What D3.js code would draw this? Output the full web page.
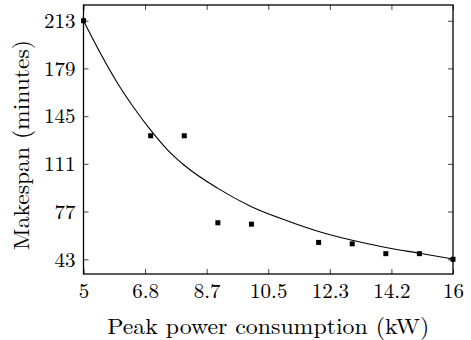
<!DOCTYPE html>
<html>
<head>
<meta charset="utf-8">
<script src="https://cdn.jsdelivr.net/npm/d3@7"></script>
<style>
  body { margin: 0; background: #fff; }
  text { fill: #000; }
</style>
</head>
<body>
<div id="chart"></div>
<script>
// measured points
var powerValues = [5, 7, 8, 9, 10, 12, 13, 14, 15, 16];
var makespanValues = [213, 131, 131, 69, 68, 55, 54, 47, 47, 43];

// fitted curve
var curvePower = [5, 5.5, 6, 6.5, 7, 7.5, 8, 9, 10, 11, 12, 13, 14, 15, 16];
var curveMakespan = [213, 190, 169, 151, 135, 121, 110, 93.5, 80.5, 71, 62.8, 56.5, 51.4, 47.3, 43.2];

var xTicks = [5, 6.8333, 8.6667, 10.5, 12.3333, 14.1667, 16];
var xTickLabels = ["5", "6.8", "8.7", "10.5", "12.3", "14.2", "16"];
var yTicks = [43, 77, 111, 145, 179, 213];

var xLabel = "Peak power consumption (kW)";
var yLabel = "Makespan (minutes)";

var width = 471;
var height = 340;
var pLeft = 83.5, pRight = 453, pTop = 5, pBottom = 274;
var fontName = "'Latin Modern Roman', 'CMU Serif', 'Liberation Serif', 'Times New Roman', 'Nimbus Roman', FreeSerif, 'Noto Serif', 'DejaVu Serif', serif";

var svg = d3.select("#chart")
	.append("svg")
	.attr("width", width)
	.attr("height", height)
	.style("font-family", fontName);

var x = d3.scaleLinear().domain([5, 16]).range([pLeft, pRight]);
var y = d3.scaleLinear().domain([32.5, 224.2]).range([pBottom, pTop]);

var tickLen = 5;

function styleTicks(g){
	g.attr("font-family", null);
	g.select(".domain").remove();
	g.selectAll("line").attr("stroke", "#444").attr("stroke-width", 1);
}

// ticks on all four sides, pointing inward
svg.append("g")
	.attr("transform", "translate(0," + pBottom + ")")
	.call(d3.axisBottom(x).tickValues(xTicks).tickSizeInner(-tickLen).tickSizeOuter(0).tickFormat(function(d, i){ return xTickLabels[i]; }))
	.call(styleTicks)
	.call(function(g){
		g.selectAll("text")
			.attr("y", 24)
			.attr("dy", 0)
			.attr("fill", "#000")
			.style("font-family", fontName)
			.style("font-size", "21px");
	});

svg.append("g")
	.attr("transform", "translate(0," + pTop + ")")
	.call(d3.axisTop(x).tickValues(xTicks).tickSizeInner(-tickLen).tickSizeOuter(0).tickFormat(""))
	.call(styleTicks);

svg.append("g")
	.attr("transform", "translate(" + pLeft + ",0)")
	.call(d3.axisLeft(y).tickValues(yTicks).tickSizeInner(-tickLen).tickSizeOuter(0))
	.call(styleTicks)
	.call(function(g){
		g.selectAll("text")
			.attr("x", -8)
			.attr("fill", "#000")
			.style("font-family", fontName)
			.style("font-size", "21px");
	});

svg.append("g")
	.attr("transform", "translate(" + pRight + ",0)")
	.call(d3.axisRight(y).tickValues(yTicks).tickSizeInner(-tickLen).tickSizeOuter(0).tickFormat(""))
	.call(styleTicks);

// frame
svg.append("rect")
	.attr("x", pLeft)
	.attr("y", pTop)
	.attr("width", pRight - pLeft)
	.attr("height", pBottom - pTop)
	.attr("fill", "none")
	.attr("stroke", "#000")
	.attr("stroke-width", 1.3);

// curve
var curveData = curvePower.map(function(p, i){ return [p, curveMakespan[i]]; });
var line = d3.line()
	.x(function(d){ return x(d[0]); })
	.y(function(d){ return y(d[1]); })
	.curve(d3.curveMonotoneX);

svg.append("path")
	.datum(curveData)
	.attr("d", line)
	.attr("fill", "none")
	.attr("stroke", "#000")
	.attr("stroke-width", 1.1);

// points
var m = 5;
svg.selectAll(".pt")
	.data(powerValues)
	.enter()
	.append("rect")
	.attr("class", "pt")
	.attr("x", function(d){ return x(d) - m/2; })
	.attr("y", function(d, i){ return y(makespanValues[i]) - m/2; })
	.attr("width", m)
	.attr("height", m)
	.attr("fill", "#000");

// axis titles
svg.append("text")
	.attr("text-anchor", "middle")
	.style("font-family", fontName)
	.style("font-size", "22px")
	.attr("x", (pLeft + pRight) / 2)
	.attr("y", 334)
	.attr("textLength", 322)
	.attr("lengthAdjust", "spacingAndGlyphs")
	.text(xLabel);

svg.append("text")
	.attr("text-anchor", "middle")
	.style("font-family", fontName)
	.style("font-size", "22px")
	.attr("transform", "translate(28.5," + 145 + ") rotate(-90)")
	.attr("textLength", 210)
	.attr("lengthAdjust", "spacingAndGlyphs")
	.text(yLabel);
</script>
</body>
</html>
